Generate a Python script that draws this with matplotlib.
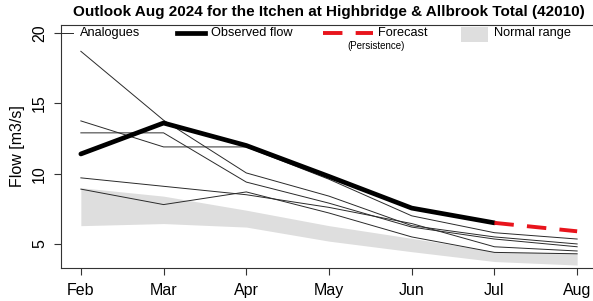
import matplotlib
matplotlib.use("Agg")
import matplotlib.pyplot as plt
from matplotlib.lines import Line2D
from matplotlib.patches import Rectangle

plt.rcParams['font.family'] = ['Liberation Sans', 'DejaVu Sans']

months = ["Feb", "Mar", "Apr", "May", "Jun", "Jul", "Aug"]
observed = [11.4, 13.6, 12.0, 9.8, 7.55, 6.5]
forecast = [6.5, 5.9]
analogue1 = [18.7, 13.8, 10.05, 8.4, 6.3, 5.5, 5.0]
analogue2 = [13.75, 11.9, 11.9, 9.6, 7.0, 5.8, 5.35]
analogue3 = [12.9, 12.9, 9.4, 7.9, 6.2, 5.35, 4.8]
analogue4 = [9.7, 9.1, 8.5, 7.6, 6.45, 4.8, 4.5]
analogue5 = [8.9, 7.8, 8.7, 7.2, 5.5, 4.4, 4.3]
normal_upper = [9.0, 8.4, 7.4, 6.3, 5.4, 4.45, 4.35]
normal_lower = [6.3, 6.45, 6.2, 5.2, 4.45, 3.75, 3.5]
yticks = [5, 10, 15, 20]
title = "Outlook Aug 2024 for the Itchen at Highbridge & Allbrook Total (42010)"

W, H = 593, 301
fig = plt.figure(figsize=(W / 100, H / 100), dpi=100)

def fx(x):
    return x / W

def fy(y):
    return 1 - y / H

ax = fig.add_axes([fx(61), fy(268), (597 - 61) / W, (268 - 25) / H])
x = list(range(len(months)))

ax.fill_between(x, normal_lower, normal_upper, color='#dedede', linewidth=0, zorder=1)
for a in (analogue1, analogue2, analogue3, analogue4, analogue5):
    ax.plot(x, a, color='#2a2a2a', lw=0.7, zorder=2)
ax.plot(x[:len(observed)], observed, color='black', lw=3.4, solid_capstyle='round',
        solid_joinstyle='round', zorder=3)
ax.plot(x[len(observed) - 1:], forecast, color='#e8141c', lw=2.8, dashes=(5.0, 3.4),
        zorder=4)

ax.set_xlim(-0.24, 6.24)
ax.set_ylim(3.29, 20.57)
ax.set_xticks(x)
ax.set_xticklabels(months, fontsize=11.5)
ax.set_yticks(yticks)
ax.set_yticklabels([str(v) for v in yticks], fontsize=11.5, rotation=90, va='center')
ax.tick_params(direction='out', length=5, width=0.8, color='#333333')
ax.tick_params(axis='x', pad=6)
ax.tick_params(axis='y', pad=5)
for s in ax.spines.values():
    s.set_color('#333333')
    s.set_linewidth(0.8)
ax.set_ylabel("Flow [m3/s]", fontsize=11.5, labelpad=5)

fig.text(fx(329), fy(12), title, fontsize=11, fontweight='bold', ha='center', va='center')

# legend
fs = 9.2
fig.add_artist(Line2D([fx(61), fx(73)], [fy(33), fy(33)], color='#2a2a2a', lw=0.7))
fig.text(fx(80), fy(33), "Analogues", fontsize=fs, va='center')
fig.add_artist(Line2D([fx(177), fx(205)], [fy(33), fy(33)], color='black', lw=3.4))
fig.text(fx(211), fy(33), "Observed flow", fontsize=fs, va='center')
fig.add_artist(Line2D([fx(323), fx(373)], [fy(33), fy(33)], color='#e8141c', lw=2.8,
                      dashes=(5.0, 3.4)))
fig.text(fx(378), fy(33), "Forecast", fontsize=fs, va='center')
fig.text(fx(376), fy(46), "(Persistence)", fontsize=7, ha='center', va='center')
fig.add_artist(Rectangle((fx(461), fy(42)), fx(488) - fx(461), fy(27) - fy(42),
                         transform=fig.transFigure, color='#dedede', lw=0))
fig.text(fx(494), fy(33), "Normal range", fontsize=fs, va='center')

fig.savefig("out.png", dpi=100)
